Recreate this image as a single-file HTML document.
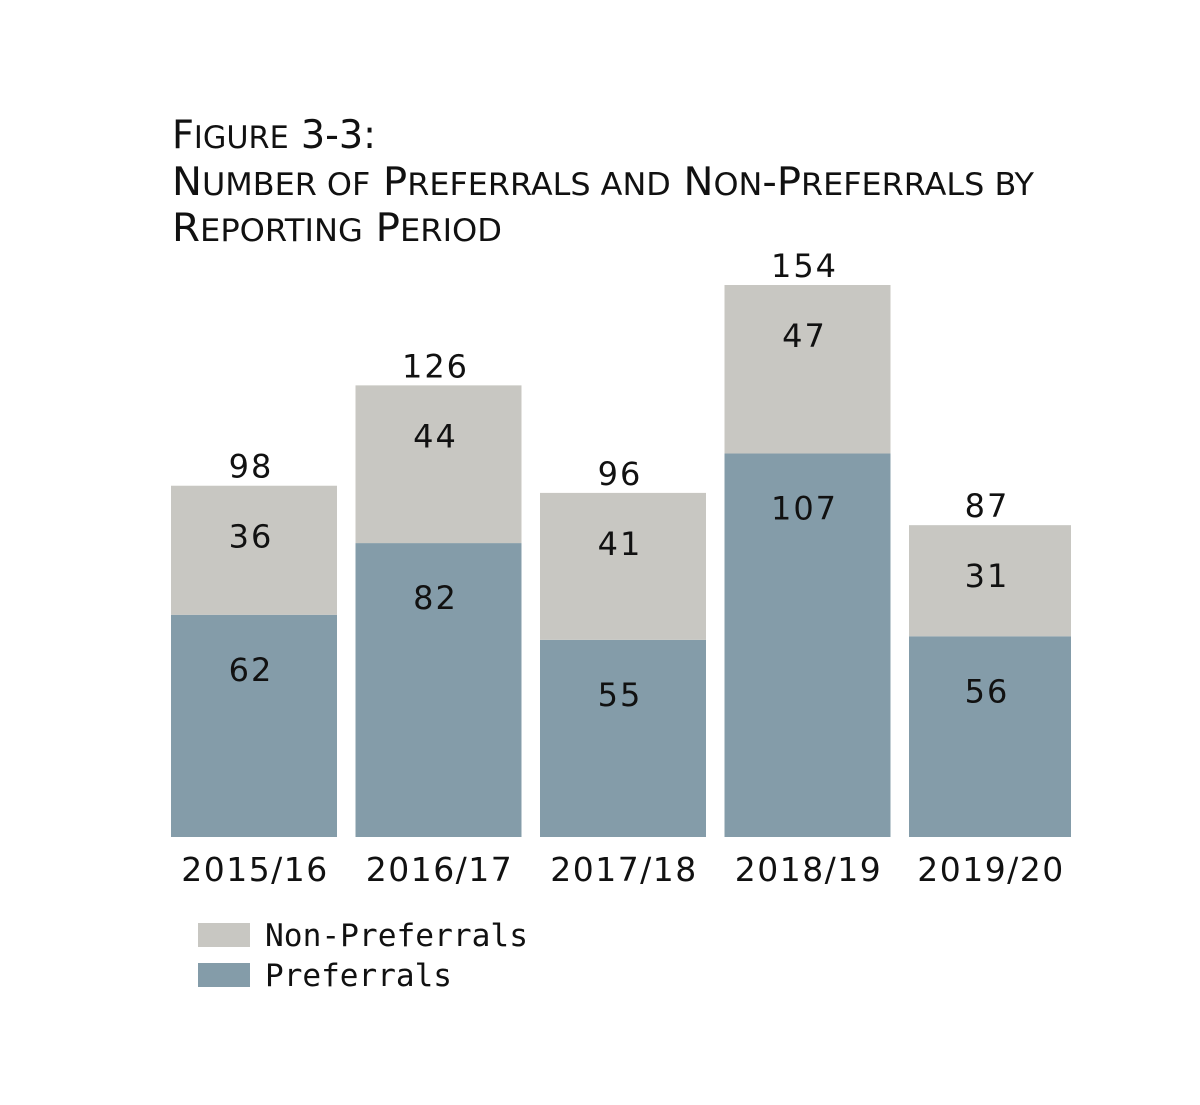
<!DOCTYPE html>
<html><head><meta charset="utf-8"><style>
body{margin:0;background:#fff;}
svg text{font-family:"DejaVu Sans","Liberation Sans",sans-serif;fill:#111;}
.s{font-size:31px;}
</style></head><body>
<svg width="1200" height="1100" xmlns="http://www.w3.org/2000/svg">
<g>
<text x="172" y="148" font-size="39" textLength="204" lengthAdjust="spacingAndGlyphs">F<tspan class="s">IGURE</tspan> 3-3:</text>
<text x="172" y="195" font-size="39" textLength="862" lengthAdjust="spacingAndGlyphs">N<tspan class="s">UMBER OF</tspan> P<tspan class="s">REFERRALS AND</tspan> N<tspan class="s">ON</tspan>-P<tspan class="s">REFERRALS BY</tspan></text>
<text x="172" y="241" font-size="39" textLength="330" lengthAdjust="spacingAndGlyphs">R<tspan class="s">EPORTING</tspan> P<tspan class="s">ERIOD</tspan></text>
</g>
<g id="bars"></g>
<g>
<rect x="198" y="923" width="52" height="24" fill="#c8c7c2"/>
<text x="265" y="946" font-size="31" style="font-family:'DejaVu Sans Mono','Liberation Mono',monospace" textLength="263" lengthAdjust="spacingAndGlyphs">Non-Preferrals</text>
<rect x="198" y="963" width="52" height="24" fill="#849ca9"/>
<text x="265" y="986" font-size="31" style="font-family:'DejaVu Sans Mono','Liberation Mono',monospace" textLength="187" lengthAdjust="spacingAndGlyphs">Preferrals</text>
</g>
</svg>
<script>
const categories=["2015/16","2016/17","2017/18","2018/19","2019/20"];
const preferrals=[62,82,55,107,56];
const nonPreferrals=[36,44,41,47,31];
const totals=[98,126,96,154,87];
const NS="http://www.w3.org/2000/svg";
const g=document.getElementById('bars');
const base=837, scale=552/154, x0=171, step=184.5;
const yS=v=>base-v*scale;
function mk(tag,attrs){const e=document.createElementNS(NS,tag);for(const k in attrs)e.setAttribute(k,attrs[k]);g.appendChild(e);return e;}
categories.forEach((c,i)=>{
  const bw=i===categories.length-1?162:166;
  const x=x0+i*step, cx=x+bw/2;
  const pTop=yS(preferrals[i]), tTop=yS(preferrals[i]+nonPreferrals[i]);
  const r1=mk('rect',{x:x,y:pTop,width:bw,height:base-pTop,fill:'#849ca9'});
  
  
  const r2=mk('rect',{x:x,y:tTop,width:bw,height:pTop-tTop,fill:'#c8c7c2'});
  
  
  const labels=[[preferrals[i],pTop+66,'value-preferrals'],[nonPreferrals[i],tTop+62,'value-non-preferrals'],[totals[i],tTop-8,'value-total']];
  labels.forEach(l=>{
    const t=mk('text',{x:cx-3,y:l[1],'font-size':32,'text-anchor':'middle','letter-spacing':'2'});
    t.textContent=l[0];
    
    
  });
  const a=mk('text',{x:cx+1,y:881,'font-size':33,'text-anchor':'middle','letter-spacing':'1.5'});
  a.textContent=c;
  
  
});
</script>
</body></html>
